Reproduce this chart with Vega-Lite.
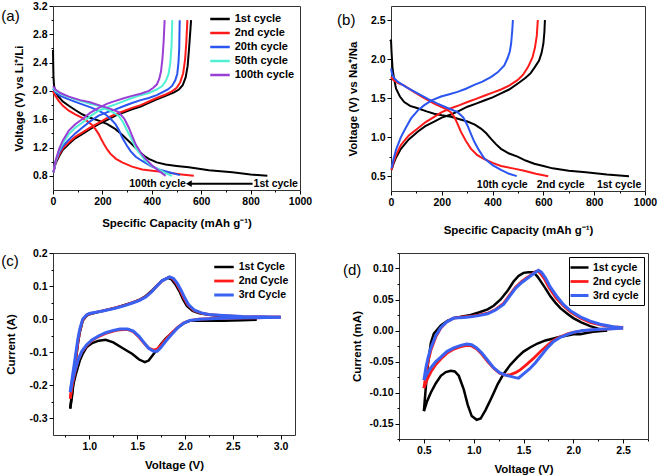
{
"$schema": "https://vega.github.io/schema/vega-lite/v6.json",
"padding": {"left": 0, "top": 0, "right": 0, "bottom": 0},
"spacing": 10,
"resolve": {"scale": {"color": "independent", "strokeWidth": "independent"}, "legend": {"color": "independent", "strokeWidth": "independent"}},
"config": {
  "view": {"stroke": "#333", "strokeWidth": 1},
  "font": "Liberation Sans",
  "axis": {"grid": false, "domain": false, "tickColor": "#000", "tickWidth": 1, "tickSize": 4, "labelFont": "Liberation Sans", "labelFontWeight": "bold", "labelFontSize": 10.5, "labelColor": "#000", "titleFont": "Liberation Sans", "titleFontWeight": "bold", "titleFontSize": 11.5, "titleColor": "#000", "labelPadding": 2, "titlePadding": 6, "labelFlush": false, "labelOverlap": false},
  "legend": {"labelFont": "Liberation Sans", "labelFontWeight": "bold", "labelColor": "#000", "symbolType": "M-1.5,0H1.5", "symbolFillColor": "transparent", "symbolSize": 169, "symbolStrokeWidth": 2.5, "labelOffset": 6.75, "padding": 0, "orient": "top-right"}
},
"datasets": {
  "a": [
    {"c":"1st cycle","s":"d","x":0,"y":2.58},{"c":"1st cycle","s":"d","x":1,"y":2.35},{"c":"1st cycle","s":"d","x":2,"y":2.2},{"c":"1st cycle","s":"d","x":4,"y":2.08},{"c":"1st cycle","s":"d","x":8,"y":2.0},{"c":"1st cycle","s":"d","x":20,"y":1.93},{"c":"1st cycle","s":"d","x":40,"y":1.85},{"c":"1st cycle","s":"d","x":64,"y":1.79},{"c":"1st cycle","s":"d","x":90,"y":1.73},{"c":"1st cycle","s":"d","x":118,"y":1.67},{"c":"1st cycle","s":"d","x":150,"y":1.62},{"c":"1st cycle","s":"d","x":185,"y":1.58},{"c":"1st cycle","s":"d","x":220,"y":1.53},{"c":"1st cycle","s":"d","x":253,"y":1.46},{"c":"1st cycle","s":"d","x":280,"y":1.38},{"c":"1st cycle","s":"d","x":307,"y":1.29},{"c":"1st cycle","s":"d","x":330,"y":1.21},{"c":"1st cycle","s":"d","x":347,"y":1.15},{"c":"1st cycle","s":"d","x":370,"y":1.08},{"c":"1st cycle","s":"d","x":388,"y":1.04},{"c":"1st cycle","s":"d","x":420,"y":0.99},{"c":"1st cycle","s":"d","x":456,"y":0.96},{"c":"1st cycle","s":"d","x":500,"y":0.94},{"c":"1st cycle","s":"d","x":550,"y":0.92},{"c":"1st cycle","s":"d","x":631,"y":0.88},{"c":"1st cycle","s":"d","x":726,"y":0.85},{"c":"1st cycle","s":"d","x":800,"y":0.82},{"c":"1st cycle","s":"d","x":868,"y":0.8},
    {"c":"1st cycle","s":"c","x":2,"y":0.85},{"c":"1st cycle","s":"c","x":10,"y":0.97},{"c":"1st cycle","s":"c","x":25,"y":1.08},{"c":"1st cycle","s":"c","x":40,"y":1.17},{"c":"1st cycle","s":"c","x":64,"y":1.25},{"c":"1st cycle","s":"c","x":90,"y":1.33},{"c":"1st cycle","s":"c","x":118,"y":1.39},{"c":"1st cycle","s":"c","x":150,"y":1.46},{"c":"1st cycle","s":"c","x":185,"y":1.53},{"c":"1st cycle","s":"c","x":220,"y":1.59},{"c":"1st cycle","s":"c","x":253,"y":1.65},{"c":"1st cycle","s":"c","x":290,"y":1.7},{"c":"1st cycle","s":"c","x":320,"y":1.74},{"c":"1st cycle","s":"c","x":355,"y":1.78},{"c":"1st cycle","s":"c","x":388,"y":1.83},{"c":"1st cycle","s":"c","x":420,"y":1.88},{"c":"1st cycle","s":"c","x":456,"y":1.93},{"c":"1st cycle","s":"c","x":490,"y":1.98},{"c":"1st cycle","s":"c","x":510,"y":2.02},{"c":"1st cycle","s":"c","x":525,"y":2.08},{"c":"1st cycle","s":"c","x":537,"y":2.19},{"c":"1st cycle","s":"c","x":545,"y":2.35},{"c":"1st cycle","s":"c","x":550,"y":2.56},{"c":"1st cycle","s":"c","x":555,"y":2.8},{"c":"1st cycle","s":"c","x":559,"y":3.0},
    {"c":"2nd cycle","s":"d","x":0,"y":2.0},{"c":"2nd cycle","s":"d","x":3,"y":1.97},{"c":"2nd cycle","s":"d","x":10,"y":1.93},{"c":"2nd cycle","s":"d","x":23,"y":1.86},{"c":"2nd cycle","s":"d","x":40,"y":1.79},{"c":"2nd cycle","s":"d","x":64,"y":1.72},{"c":"2nd cycle","s":"d","x":90,"y":1.67},{"c":"2nd cycle","s":"d","x":118,"y":1.62},{"c":"2nd cycle","s":"d","x":140,"y":1.57},{"c":"2nd cycle","s":"d","x":158,"y":1.52},{"c":"2nd cycle","s":"d","x":172,"y":1.46},{"c":"2nd cycle","s":"d","x":185,"y":1.39},{"c":"2nd cycle","s":"d","x":195,"y":1.32},{"c":"2nd cycle","s":"d","x":206,"y":1.25},{"c":"2nd cycle","s":"d","x":220,"y":1.17},{"c":"2nd cycle","s":"d","x":233,"y":1.11},{"c":"2nd cycle","s":"d","x":255,"y":1.04},{"c":"2nd cycle","s":"d","x":280,"y":0.99},{"c":"2nd cycle","s":"d","x":320,"y":0.93},{"c":"2nd cycle","s":"d","x":361,"y":0.89},{"c":"2nd cycle","s":"d","x":410,"y":0.87},{"c":"2nd cycle","s":"d","x":456,"y":0.85},{"c":"2nd cycle","s":"d","x":520,"y":0.82},{"c":"2nd cycle","s":"d","x":570,"y":0.8},
    {"c":"2nd cycle","s":"c","x":2,"y":0.85},{"c":"2nd cycle","s":"c","x":10,"y":0.98},{"c":"2nd cycle","s":"c","x":25,"y":1.1},{"c":"2nd cycle","s":"c","x":40,"y":1.19},{"c":"2nd cycle","s":"c","x":64,"y":1.27},{"c":"2nd cycle","s":"c","x":90,"y":1.35},{"c":"2nd cycle","s":"c","x":118,"y":1.41},{"c":"2nd cycle","s":"c","x":150,"y":1.48},{"c":"2nd cycle","s":"c","x":185,"y":1.55},{"c":"2nd cycle","s":"c","x":220,"y":1.62},{"c":"2nd cycle","s":"c","x":253,"y":1.67},{"c":"2nd cycle","s":"c","x":290,"y":1.72},{"c":"2nd cycle","s":"c","x":320,"y":1.76},{"c":"2nd cycle","s":"c","x":355,"y":1.8},{"c":"2nd cycle","s":"c","x":388,"y":1.85},{"c":"2nd cycle","s":"c","x":420,"y":1.9},{"c":"2nd cycle","s":"c","x":456,"y":1.95},{"c":"2nd cycle","s":"c","x":480,"y":1.99},{"c":"2nd cycle","s":"c","x":500,"y":2.04},{"c":"2nd cycle","s":"c","x":515,"y":2.12},{"c":"2nd cycle","s":"c","x":527,"y":2.25},{"c":"2nd cycle","s":"c","x":535,"y":2.45},{"c":"2nd cycle","s":"c","x":540,"y":2.7},{"c":"2nd cycle","s":"c","x":544,"y":3.0},
    {"c":"20th cycle","s":"d","x":0,"y":2.03},{"c":"20th cycle","s":"d","x":10,"y":1.98},{"c":"20th cycle","s":"d","x":30,"y":1.93},{"c":"20th cycle","s":"d","x":64,"y":1.88},{"c":"20th cycle","s":"d","x":110,"y":1.82},{"c":"20th cycle","s":"d","x":158,"y":1.76},{"c":"20th cycle","s":"d","x":190,"y":1.71},{"c":"20th cycle","s":"d","x":212,"y":1.67},{"c":"20th cycle","s":"d","x":235,"y":1.6},{"c":"20th cycle","s":"d","x":253,"y":1.53},{"c":"20th cycle","s":"d","x":268,"y":1.44},{"c":"20th cycle","s":"d","x":280,"y":1.34},{"c":"20th cycle","s":"d","x":297,"y":1.24},{"c":"20th cycle","s":"d","x":314,"y":1.15},{"c":"20th cycle","s":"d","x":335,"y":1.07},{"c":"20th cycle","s":"d","x":361,"y":1.01},{"c":"20th cycle","s":"d","x":395,"y":0.94},{"c":"20th cycle","s":"d","x":429,"y":0.89},{"c":"20th cycle","s":"d","x":470,"y":0.85},{"c":"20th cycle","s":"d","x":514,"y":0.81},
    {"c":"20th cycle","s":"c","x":2,"y":0.85},{"c":"20th cycle","s":"c","x":10,"y":0.99},{"c":"20th cycle","s":"c","x":25,"y":1.13},{"c":"20th cycle","s":"c","x":40,"y":1.22},{"c":"20th cycle","s":"c","x":64,"y":1.31},{"c":"20th cycle","s":"c","x":90,"y":1.4},{"c":"20th cycle","s":"c","x":118,"y":1.48},{"c":"20th cycle","s":"c","x":150,"y":1.57},{"c":"20th cycle","s":"c","x":185,"y":1.65},{"c":"20th cycle","s":"c","x":220,"y":1.7},{"c":"20th cycle","s":"c","x":253,"y":1.74},{"c":"20th cycle","s":"c","x":290,"y":1.79},{"c":"20th cycle","s":"c","x":320,"y":1.83},{"c":"20th cycle","s":"c","x":355,"y":1.87},{"c":"20th cycle","s":"c","x":388,"y":1.9},{"c":"20th cycle","s":"c","x":420,"y":1.94},{"c":"20th cycle","s":"c","x":442,"y":1.98},{"c":"20th cycle","s":"c","x":465,"y":2.02},{"c":"20th cycle","s":"c","x":482,"y":2.07},{"c":"20th cycle","s":"c","x":495,"y":2.15},{"c":"20th cycle","s":"c","x":503,"y":2.24},{"c":"20th cycle","s":"c","x":508,"y":2.4},{"c":"20th cycle","s":"c","x":511,"y":2.6},{"c":"20th cycle","s":"c","x":513,"y":3.0},
    {"c":"50th cycle","s":"d","x":0,"y":2.05},{"c":"50th cycle","s":"d","x":10,"y":2.0},{"c":"50th cycle","s":"d","x":30,"y":1.96},{"c":"50th cycle","s":"d","x":64,"y":1.91},{"c":"50th cycle","s":"d","x":110,"y":1.86},{"c":"50th cycle","s":"d","x":150,"y":1.82},{"c":"50th cycle","s":"d","x":185,"y":1.79},{"c":"50th cycle","s":"d","x":230,"y":1.72},{"c":"50th cycle","s":"d","x":266,"y":1.65},{"c":"50th cycle","s":"d","x":285,"y":1.55},{"c":"50th cycle","s":"d","x":300,"y":1.44},{"c":"50th cycle","s":"d","x":318,"y":1.32},{"c":"50th cycle","s":"d","x":334,"y":1.2},{"c":"50th cycle","s":"d","x":355,"y":1.1},{"c":"50th cycle","s":"d","x":375,"y":1.01},{"c":"50th cycle","s":"d","x":400,"y":0.94},{"c":"50th cycle","s":"d","x":429,"y":0.89},{"c":"50th cycle","s":"d","x":455,"y":0.84},{"c":"50th cycle","s":"d","x":482,"y":0.8},
    {"c":"50th cycle","s":"c","x":2,"y":0.85},{"c":"50th cycle","s":"c","x":10,"y":1.0},{"c":"50th cycle","s":"c","x":25,"y":1.16},{"c":"50th cycle","s":"c","x":40,"y":1.26},{"c":"50th cycle","s":"c","x":64,"y":1.39},{"c":"50th cycle","s":"c","x":90,"y":1.48},{"c":"50th cycle","s":"c","x":118,"y":1.55},{"c":"50th cycle","s":"c","x":150,"y":1.64},{"c":"50th cycle","s":"c","x":185,"y":1.72},{"c":"50th cycle","s":"c","x":220,"y":1.77},{"c":"50th cycle","s":"c","x":253,"y":1.81},{"c":"50th cycle","s":"c","x":290,"y":1.86},{"c":"50th cycle","s":"c","x":320,"y":1.9},{"c":"50th cycle","s":"c","x":355,"y":1.94},{"c":"50th cycle","s":"c","x":388,"y":1.97},{"c":"50th cycle","s":"c","x":420,"y":2.02},{"c":"50th cycle","s":"c","x":442,"y":2.07},{"c":"50th cycle","s":"c","x":458,"y":2.15},{"c":"50th cycle","s":"c","x":468,"y":2.24},{"c":"50th cycle","s":"c","x":475,"y":2.4},{"c":"50th cycle","s":"c","x":480,"y":2.65},{"c":"50th cycle","s":"c","x":483,"y":3.0},
    {"c":"100th cycle","s":"d","x":0,"y":2.07},{"c":"100th cycle","s":"d","x":10,"y":2.02},{"c":"100th cycle","s":"d","x":30,"y":1.97},{"c":"100th cycle","s":"d","x":64,"y":1.92},{"c":"100th cycle","s":"d","x":110,"y":1.87},{"c":"100th cycle","s":"d","x":150,"y":1.84},{"c":"100th cycle","s":"d","x":185,"y":1.8},{"c":"100th cycle","s":"d","x":230,"y":1.75},{"c":"100th cycle","s":"d","x":266,"y":1.7},{"c":"100th cycle","s":"d","x":290,"y":1.6},{"c":"100th cycle","s":"d","x":307,"y":1.48},{"c":"100th cycle","s":"d","x":320,"y":1.37},{"c":"100th cycle","s":"d","x":334,"y":1.25},{"c":"100th cycle","s":"d","x":355,"y":1.13},{"c":"100th cycle","s":"d","x":375,"y":1.04},{"c":"100th cycle","s":"d","x":400,"y":0.95},{"c":"100th cycle","s":"d","x":429,"y":0.87},{"c":"100th cycle","s":"d","x":456,"y":0.8},
    {"c":"100th cycle","s":"c","x":2,"y":0.85},{"c":"100th cycle","s":"c","x":10,"y":1.01},{"c":"100th cycle","s":"c","x":25,"y":1.18},{"c":"100th cycle","s":"c","x":40,"y":1.3},{"c":"100th cycle","s":"c","x":64,"y":1.44},{"c":"100th cycle","s":"c","x":90,"y":1.53},{"c":"100th cycle","s":"c","x":118,"y":1.6},{"c":"100th cycle","s":"c","x":150,"y":1.69},{"c":"100th cycle","s":"c","x":185,"y":1.76},{"c":"100th cycle","s":"c","x":220,"y":1.82},{"c":"100th cycle","s":"c","x":253,"y":1.86},{"c":"100th cycle","s":"c","x":290,"y":1.9},{"c":"100th cycle","s":"c","x":320,"y":1.93},{"c":"100th cycle","s":"c","x":355,"y":1.96},{"c":"100th cycle","s":"c","x":388,"y":2.0},{"c":"100th cycle","s":"c","x":405,"y":2.04},{"c":"100th cycle","s":"c","x":420,"y":2.09},{"c":"100th cycle","s":"c","x":430,"y":2.17},{"c":"100th cycle","s":"c","x":437,"y":2.27},{"c":"100th cycle","s":"c","x":443,"y":2.45},{"c":"100th cycle","s":"c","x":448,"y":2.7},{"c":"100th cycle","s":"c","x":452,"y":3.0}
  ],
  "b": [
    {"c":"1st","s":"d","x":0,"y":2.25},{"c":"1st","s":"d","x":2,"y":2.1},{"c":"1st","s":"d","x":6,"y":1.88},{"c":"1st","s":"d","x":12,"y":1.75},{"c":"1st","s":"d","x":20,"y":1.62},{"c":"1st","s":"d","x":35,"y":1.52},{"c":"1st","s":"d","x":52,"y":1.45},{"c":"1st","s":"d","x":75,"y":1.4},{"c":"1st","s":"d","x":105,"y":1.37},{"c":"1st","s":"d","x":140,"y":1.33},{"c":"1st","s":"d","x":170,"y":1.3},{"c":"1st","s":"d","x":200,"y":1.28},{"c":"1st","s":"d","x":236,"y":1.26},{"c":"1st","s":"d","x":270,"y":1.23},{"c":"1st","s":"d","x":301,"y":1.2},{"c":"1st","s":"d","x":330,"y":1.16},{"c":"1st","s":"d","x":354,"y":1.11},{"c":"1st","s":"d","x":375,"y":1.05},{"c":"1st","s":"d","x":393,"y":0.98},{"c":"1st","s":"d","x":413,"y":0.91},{"c":"1st","s":"d","x":433,"y":0.85},{"c":"1st","s":"d","x":465,"y":0.79},{"c":"1st","s":"d","x":498,"y":0.75},{"c":"1st","s":"d","x":530,"y":0.7},{"c":"1st","s":"d","x":564,"y":0.66},{"c":"1st","s":"d","x":600,"y":0.63},{"c":"1st","s":"d","x":636,"y":0.6},{"c":"1st","s":"d","x":700,"y":0.57},{"c":"1st","s":"d","x":767,"y":0.55},{"c":"1st","s":"d","x":850,"y":0.52},{"c":"1st","s":"d","x":937,"y":0.5},
    {"c":"1st","s":"c","x":2,"y":0.58},{"c":"1st","s":"c","x":10,"y":0.66},{"c":"1st","s":"c","x":20,"y":0.74},{"c":"1st","s":"c","x":39,"y":0.85},{"c":"1st","s":"c","x":70,"y":0.97},{"c":"1st","s":"c","x":105,"y":1.07},{"c":"1st","s":"c","x":135,"y":1.14},{"c":"1st","s":"c","x":170,"y":1.2},{"c":"1st","s":"c","x":200,"y":1.25},{"c":"1st","s":"c","x":236,"y":1.29},{"c":"1st","s":"c","x":270,"y":1.34},{"c":"1st","s":"c","x":301,"y":1.39},{"c":"1st","s":"c","x":335,"y":1.43},{"c":"1st","s":"c","x":367,"y":1.47},{"c":"1st","s":"c","x":400,"y":1.51},{"c":"1st","s":"c","x":433,"y":1.56},{"c":"1st","s":"c","x":465,"y":1.61},{"c":"1st","s":"c","x":505,"y":1.7},{"c":"1st","s":"c","x":530,"y":1.76},{"c":"1st","s":"c","x":550,"y":1.82},{"c":"1st","s":"c","x":565,"y":1.89},{"c":"1st","s":"c","x":583,"y":1.98},{"c":"1st","s":"c","x":593,"y":2.08},{"c":"1st","s":"c","x":600,"y":2.2},{"c":"1st","s":"c","x":604,"y":2.35},{"c":"1st","s":"c","x":606,"y":2.5},
    {"c":"2nd","s":"d","x":0,"y":1.77},{"c":"2nd","s":"d","x":10,"y":1.73},{"c":"2nd","s":"d","x":30,"y":1.69},{"c":"2nd","s":"d","x":52,"y":1.66},{"c":"2nd","s":"d","x":90,"y":1.58},{"c":"2nd","s":"d","x":131,"y":1.5},{"c":"2nd","s":"d","x":170,"y":1.43},{"c":"2nd","s":"d","x":210,"y":1.37},{"c":"2nd","s":"d","x":235,"y":1.32},{"c":"2nd","s":"d","x":249,"y":1.26},{"c":"2nd","s":"d","x":262,"y":1.17},{"c":"2nd","s":"d","x":275,"y":1.07},{"c":"2nd","s":"d","x":295,"y":0.95},{"c":"2nd","s":"d","x":315,"y":0.85},{"c":"2nd","s":"d","x":340,"y":0.77},{"c":"2nd","s":"d","x":367,"y":0.72},{"c":"2nd","s":"d","x":400,"y":0.67},{"c":"2nd","s":"d","x":433,"y":0.63},{"c":"2nd","s":"d","x":480,"y":0.6},{"c":"2nd","s":"d","x":524,"y":0.57},{"c":"2nd","s":"d","x":570,"y":0.53},{"c":"2nd","s":"d","x":619,"y":0.5},
    {"c":"2nd","s":"c","x":2,"y":0.58},{"c":"2nd","s":"c","x":10,"y":0.68},{"c":"2nd","s":"c","x":20,"y":0.77},{"c":"2nd","s":"c","x":39,"y":0.9},{"c":"2nd","s":"c","x":70,"y":1.02},{"c":"2nd","s":"c","x":105,"y":1.11},{"c":"2nd","s":"c","x":135,"y":1.19},{"c":"2nd","s":"c","x":170,"y":1.26},{"c":"2nd","s":"c","x":200,"y":1.32},{"c":"2nd","s":"c","x":236,"y":1.37},{"c":"2nd","s":"c","x":270,"y":1.41},{"c":"2nd","s":"c","x":301,"y":1.45},{"c":"2nd","s":"c","x":335,"y":1.49},{"c":"2nd","s":"c","x":367,"y":1.53},{"c":"2nd","s":"c","x":400,"y":1.57},{"c":"2nd","s":"c","x":433,"y":1.61},{"c":"2nd","s":"c","x":465,"y":1.66},{"c":"2nd","s":"c","x":498,"y":1.73},{"c":"2nd","s":"c","x":520,"y":1.8},{"c":"2nd","s":"c","x":540,"y":1.9},{"c":"2nd","s":"c","x":557,"y":2.02},{"c":"2nd","s":"c","x":567,"y":2.15},{"c":"2nd","s":"c","x":574,"y":2.3},{"c":"2nd","s":"c","x":578,"y":2.5},
    {"c":"10th","s":"d","x":0,"y":1.88},{"c":"10th","s":"d","x":5,"y":1.8},{"c":"10th","s":"d","x":12,"y":1.76},{"c":"10th","s":"d","x":26,"y":1.71},{"c":"10th","s":"d","x":60,"y":1.64},{"c":"10th","s":"d","x":105,"y":1.56},{"c":"10th","s":"d","x":145,"y":1.49},{"c":"10th","s":"d","x":183,"y":1.43},{"c":"10th","s":"d","x":225,"y":1.37},{"c":"10th","s":"d","x":262,"y":1.32},{"c":"10th","s":"d","x":285,"y":1.25},{"c":"10th","s":"d","x":301,"y":1.15},{"c":"10th","s":"d","x":315,"y":1.04},{"c":"10th","s":"d","x":328,"y":0.94},{"c":"10th","s":"d","x":345,"y":0.84},{"c":"10th","s":"d","x":367,"y":0.73},{"c":"10th","s":"d","x":400,"y":0.64},{"c":"10th","s":"d","x":433,"y":0.58},{"c":"10th","s":"d","x":465,"y":0.53},{"c":"10th","s":"d","x":495,"y":0.5},
    {"c":"10th","s":"c","x":2,"y":0.6},{"c":"10th","s":"c","x":10,"y":0.72},{"c":"10th","s":"c","x":20,"y":0.84},{"c":"10th","s":"c","x":39,"y":1.0},{"c":"10th","s":"c","x":60,"y":1.13},{"c":"10th","s":"c","x":79,"y":1.24},{"c":"10th","s":"c","x":105,"y":1.34},{"c":"10th","s":"c","x":131,"y":1.41},{"c":"10th","s":"c","x":160,"y":1.47},{"c":"10th","s":"c","x":197,"y":1.52},{"c":"10th","s":"c","x":230,"y":1.55},{"c":"10th","s":"c","x":262,"y":1.58},{"c":"10th","s":"c","x":295,"y":1.62},{"c":"10th","s":"c","x":328,"y":1.67},{"c":"10th","s":"c","x":360,"y":1.71},{"c":"10th","s":"c","x":393,"y":1.77},{"c":"10th","s":"c","x":420,"y":1.83},{"c":"10th","s":"c","x":446,"y":1.92},{"c":"10th","s":"c","x":460,"y":2.02},{"c":"10th","s":"c","x":468,"y":2.1},{"c":"10th","s":"c","x":473,"y":2.2},{"c":"10th","s":"c","x":477,"y":2.35},{"c":"10th","s":"c","x":480,"y":2.5}
  ],
  "c": [
    {"c":"1st Cycle","s":"u","x":0.8,"y":-0.27},{"c":"1st Cycle","s":"u","x":0.82,"y":-0.23},{"c":"1st Cycle","s":"u","x":0.84,"y":-0.175},{"c":"1st Cycle","s":"u","x":0.86,"y":-0.12},{"c":"1st Cycle","s":"u","x":0.88,"y":-0.075},{"c":"1st Cycle","s":"u","x":0.9,"y":-0.04},{"c":"1st Cycle","s":"u","x":0.93,"y":-0.005},{"c":"1st Cycle","s":"u","x":0.97,"y":0.01},{"c":"1st Cycle","s":"u","x":1.0,"y":0.015},{"c":"1st Cycle","s":"u","x":1.07,"y":0.02},{"c":"1st Cycle","s":"u","x":1.14,"y":0.025},{"c":"1st Cycle","s":"u","x":1.21,"y":0.03},{"c":"1st Cycle","s":"u","x":1.28,"y":0.035},{"c":"1st Cycle","s":"u","x":1.37,"y":0.043},{"c":"1st Cycle","s":"u","x":1.45,"y":0.05},{"c":"1st Cycle","s":"u","x":1.52,"y":0.058},{"c":"1st Cycle","s":"u","x":1.59,"y":0.07},{"c":"1st Cycle","s":"u","x":1.65,"y":0.085},{"c":"1st Cycle","s":"u","x":1.7,"y":0.1},{"c":"1st Cycle","s":"u","x":1.76,"y":0.117},{"c":"1st Cycle","s":"u","x":1.82,"y":0.125},{"c":"1st Cycle","s":"u","x":1.86,"y":0.12},{"c":"1st Cycle","s":"u","x":1.9,"y":0.105},{"c":"1st Cycle","s":"u","x":1.94,"y":0.085},{"c":"1st Cycle","s":"u","x":1.98,"y":0.06},{"c":"1st Cycle","s":"u","x":2.02,"y":0.04},{"c":"1st Cycle","s":"u","x":2.08,"y":0.025},{"c":"1st Cycle","s":"u","x":2.15,"y":0.018},{"c":"1st Cycle","s":"u","x":2.25,"y":0.013},{"c":"1st Cycle","s":"u","x":2.4,"y":0.009},{"c":"1st Cycle","s":"u","x":2.6,"y":0.005},{"c":"1st Cycle","s":"u","x":2.75,"y":0.003},
    {"c":"1st Cycle","s":"l","x":0.8,"y":-0.27},{"c":"1st Cycle","s":"l","x":0.81,"y":-0.245},{"c":"1st Cycle","s":"l","x":0.83,"y":-0.2},{"c":"1st Cycle","s":"l","x":0.86,"y":-0.165},{"c":"1st Cycle","s":"l","x":0.9,"y":-0.125},{"c":"1st Cycle","s":"l","x":0.93,"y":-0.105},{"c":"1st Cycle","s":"l","x":0.97,"y":-0.085},{"c":"1st Cycle","s":"l","x":1.03,"y":-0.072},{"c":"1st Cycle","s":"l","x":1.1,"y":-0.065},{"c":"1st Cycle","s":"l","x":1.17,"y":-0.062},{"c":"1st Cycle","s":"l","x":1.25,"y":-0.07},{"c":"1st Cycle","s":"l","x":1.35,"y":-0.088},{"c":"1st Cycle","s":"l","x":1.45,"y":-0.105},{"c":"1st Cycle","s":"l","x":1.52,"y":-0.122},{"c":"1st Cycle","s":"l","x":1.58,"y":-0.13},{"c":"1st Cycle","s":"l","x":1.62,"y":-0.125},{"c":"1st Cycle","s":"l","x":1.66,"y":-0.11},{"c":"1st Cycle","s":"l","x":1.7,"y":-0.095},{"c":"1st Cycle","s":"l","x":1.75,"y":-0.075},{"c":"1st Cycle","s":"l","x":1.8,"y":-0.058},{"c":"1st Cycle","s":"l","x":1.87,"y":-0.04},{"c":"1st Cycle","s":"l","x":1.94,"y":-0.022},{"c":"1st Cycle","s":"l","x":2.0,"y":-0.01},{"c":"1st Cycle","s":"l","x":2.05,"y":-0.005},{"c":"1st Cycle","s":"l","x":2.2,"y":-0.004},{"c":"1st Cycle","s":"l","x":2.4,"y":-0.005},{"c":"1st Cycle","s":"l","x":2.6,"y":-0.003},{"c":"1st Cycle","s":"l","x":2.75,"y":-0.002},
    {"c":"2nd Cycle","s":"u","x":0.8,"y":-0.24},{"c":"2nd Cycle","s":"u","x":0.82,"y":-0.2},{"c":"2nd Cycle","s":"u","x":0.84,"y":-0.16},{"c":"2nd Cycle","s":"u","x":0.86,"y":-0.115},{"c":"2nd Cycle","s":"u","x":0.88,"y":-0.07},{"c":"2nd Cycle","s":"u","x":0.9,"y":-0.035},{"c":"2nd Cycle","s":"u","x":0.93,"y":-0.003},{"c":"2nd Cycle","s":"u","x":0.97,"y":0.012},{"c":"2nd Cycle","s":"u","x":1.0,"y":0.016},{"c":"2nd Cycle","s":"u","x":1.07,"y":0.021},{"c":"2nd Cycle","s":"u","x":1.14,"y":0.025},{"c":"2nd Cycle","s":"u","x":1.21,"y":0.03},{"c":"2nd Cycle","s":"u","x":1.28,"y":0.035},{"c":"2nd Cycle","s":"u","x":1.37,"y":0.042},{"c":"2nd Cycle","s":"u","x":1.45,"y":0.05},{"c":"2nd Cycle","s":"u","x":1.52,"y":0.057},{"c":"2nd Cycle","s":"u","x":1.59,"y":0.068},{"c":"2nd Cycle","s":"u","x":1.65,"y":0.083},{"c":"2nd Cycle","s":"u","x":1.7,"y":0.098},{"c":"2nd Cycle","s":"u","x":1.76,"y":0.115},{"c":"2nd Cycle","s":"u","x":1.83,"y":0.127},{"c":"2nd Cycle","s":"u","x":1.87,"y":0.123},{"c":"2nd Cycle","s":"u","x":1.91,"y":0.108},{"c":"2nd Cycle","s":"u","x":1.95,"y":0.087},{"c":"2nd Cycle","s":"u","x":1.99,"y":0.063},{"c":"2nd Cycle","s":"u","x":2.03,"y":0.043},{"c":"2nd Cycle","s":"u","x":2.09,"y":0.027},{"c":"2nd Cycle","s":"u","x":2.16,"y":0.019},{"c":"2nd Cycle","s":"u","x":2.25,"y":0.014},{"c":"2nd Cycle","s":"u","x":2.4,"y":0.011},{"c":"2nd Cycle","s":"u","x":2.6,"y":0.008},{"c":"2nd Cycle","s":"u","x":2.8,"y":0.007},{"c":"2nd Cycle","s":"u","x":3.0,"y":0.006},
    {"c":"2nd Cycle","s":"l","x":0.8,"y":-0.24},{"c":"2nd Cycle","s":"l","x":0.82,"y":-0.2},{"c":"2nd Cycle","s":"l","x":0.85,"y":-0.16},{"c":"2nd Cycle","s":"l","x":0.88,"y":-0.125},{"c":"2nd Cycle","s":"l","x":0.92,"y":-0.1},{"c":"2nd Cycle","s":"l","x":0.97,"y":-0.08},{"c":"2nd Cycle","s":"l","x":1.03,"y":-0.064},{"c":"2nd Cycle","s":"l","x":1.1,"y":-0.052},{"c":"2nd Cycle","s":"l","x":1.17,"y":-0.043},{"c":"2nd Cycle","s":"l","x":1.25,"y":-0.036},{"c":"2nd Cycle","s":"l","x":1.32,"y":-0.032},{"c":"2nd Cycle","s":"l","x":1.4,"y":-0.031},{"c":"2nd Cycle","s":"l","x":1.46,"y":-0.038},{"c":"2nd Cycle","s":"l","x":1.52,"y":-0.055},{"c":"2nd Cycle","s":"l","x":1.57,"y":-0.072},{"c":"2nd Cycle","s":"l","x":1.62,"y":-0.087},{"c":"2nd Cycle","s":"l","x":1.67,"y":-0.093},{"c":"2nd Cycle","s":"l","x":1.71,"y":-0.09},{"c":"2nd Cycle","s":"l","x":1.75,"y":-0.078},{"c":"2nd Cycle","s":"l","x":1.8,"y":-0.06},{"c":"2nd Cycle","s":"l","x":1.86,"y":-0.042},{"c":"2nd Cycle","s":"l","x":1.92,"y":-0.025},{"c":"2nd Cycle","s":"l","x":1.98,"y":-0.012},{"c":"2nd Cycle","s":"l","x":2.05,"y":-0.004},{"c":"2nd Cycle","s":"l","x":2.15,"y":0.0},{"c":"2nd Cycle","s":"l","x":2.4,"y":0.003},{"c":"2nd Cycle","s":"l","x":2.7,"y":0.004},{"c":"2nd Cycle","s":"l","x":3.0,"y":0.006},
    {"c":"3rd Cycle","s":"u","x":0.8,"y":-0.22},{"c":"3rd Cycle","s":"u","x":0.82,"y":-0.18},{"c":"3rd Cycle","s":"u","x":0.84,"y":-0.14},{"c":"3rd Cycle","s":"u","x":0.86,"y":-0.1},{"c":"3rd Cycle","s":"u","x":0.88,"y":-0.06},{"c":"3rd Cycle","s":"u","x":0.9,"y":-0.03},{"c":"3rd Cycle","s":"u","x":0.93,"y":0.0},{"c":"3rd Cycle","s":"u","x":0.97,"y":0.013},{"c":"3rd Cycle","s":"u","x":1.0,"y":0.017},{"c":"3rd Cycle","s":"u","x":1.07,"y":0.021},{"c":"3rd Cycle","s":"u","x":1.14,"y":0.025},{"c":"3rd Cycle","s":"u","x":1.21,"y":0.029},{"c":"3rd Cycle","s":"u","x":1.28,"y":0.034},{"c":"3rd Cycle","s":"u","x":1.37,"y":0.041},{"c":"3rd Cycle","s":"u","x":1.45,"y":0.049},{"c":"3rd Cycle","s":"u","x":1.52,"y":0.056},{"c":"3rd Cycle","s":"u","x":1.59,"y":0.067},{"c":"3rd Cycle","s":"u","x":1.65,"y":0.082},{"c":"3rd Cycle","s":"u","x":1.7,"y":0.098},{"c":"3rd Cycle","s":"u","x":1.76,"y":0.116},{"c":"3rd Cycle","s":"u","x":1.84,"y":0.128},{"c":"3rd Cycle","s":"u","x":1.88,"y":0.123},{"c":"3rd Cycle","s":"u","x":1.92,"y":0.108},{"c":"3rd Cycle","s":"u","x":1.96,"y":0.087},{"c":"3rd Cycle","s":"u","x":2.0,"y":0.063},{"c":"3rd Cycle","s":"u","x":2.04,"y":0.043},{"c":"3rd Cycle","s":"u","x":2.1,"y":0.027},{"c":"3rd Cycle","s":"u","x":2.17,"y":0.019},{"c":"3rd Cycle","s":"u","x":2.25,"y":0.014},{"c":"3rd Cycle","s":"u","x":2.4,"y":0.011},{"c":"3rd Cycle","s":"u","x":2.6,"y":0.008},{"c":"3rd Cycle","s":"u","x":2.8,"y":0.007},{"c":"3rd Cycle","s":"u","x":3.0,"y":0.006},
    {"c":"3rd Cycle","s":"l","x":0.8,"y":-0.22},{"c":"3rd Cycle","s":"l","x":0.82,"y":-0.19},{"c":"3rd Cycle","s":"l","x":0.85,"y":-0.155},{"c":"3rd Cycle","s":"l","x":0.88,"y":-0.125},{"c":"3rd Cycle","s":"l","x":0.92,"y":-0.098},{"c":"3rd Cycle","s":"l","x":0.97,"y":-0.078},{"c":"3rd Cycle","s":"l","x":1.03,"y":-0.062},{"c":"3rd Cycle","s":"l","x":1.1,"y":-0.05},{"c":"3rd Cycle","s":"l","x":1.17,"y":-0.041},{"c":"3rd Cycle","s":"l","x":1.25,"y":-0.034},{"c":"3rd Cycle","s":"l","x":1.32,"y":-0.03},{"c":"3rd Cycle","s":"l","x":1.4,"y":-0.03},{"c":"3rd Cycle","s":"l","x":1.46,"y":-0.036},{"c":"3rd Cycle","s":"l","x":1.52,"y":-0.052},{"c":"3rd Cycle","s":"l","x":1.57,"y":-0.07},{"c":"3rd Cycle","s":"l","x":1.62,"y":-0.088},{"c":"3rd Cycle","s":"l","x":1.67,"y":-0.097},{"c":"3rd Cycle","s":"l","x":1.71,"y":-0.097},{"c":"3rd Cycle","s":"l","x":1.75,"y":-0.085},{"c":"3rd Cycle","s":"l","x":1.8,"y":-0.066},{"c":"3rd Cycle","s":"l","x":1.86,"y":-0.046},{"c":"3rd Cycle","s":"l","x":1.92,"y":-0.027},{"c":"3rd Cycle","s":"l","x":1.98,"y":-0.013},{"c":"3rd Cycle","s":"l","x":2.05,"y":-0.004},{"c":"3rd Cycle","s":"l","x":2.15,"y":0.0},{"c":"3rd Cycle","s":"l","x":2.4,"y":0.003},{"c":"3rd Cycle","s":"l","x":2.7,"y":0.004},{"c":"3rd Cycle","s":"l","x":3.0,"y":0.006}
  ],
  "d": [
    {"c":"1st cycle","s":"u","x":0.5,"y":-0.13},{"c":"1st cycle","s":"u","x":0.52,"y":-0.09},{"c":"1st cycle","s":"u","x":0.54,"y":-0.055},{"c":"1st cycle","s":"u","x":0.57,"y":-0.02},{"c":"1st cycle","s":"u","x":0.6,"y":-0.005},{"c":"1st cycle","s":"u","x":0.67,"y":0.008},{"c":"1st cycle","s":"u","x":0.74,"y":0.016},{"c":"1st cycle","s":"u","x":0.8,"y":0.02},{"c":"1st cycle","s":"u","x":0.9,"y":0.023},{"c":"1st cycle","s":"u","x":0.97,"y":0.025},{"c":"1st cycle","s":"u","x":1.05,"y":0.029},{"c":"1st cycle","s":"u","x":1.14,"y":0.034},{"c":"1st cycle","s":"u","x":1.2,"y":0.04},{"c":"1st cycle","s":"u","x":1.27,"y":0.05},{"c":"1st cycle","s":"u","x":1.34,"y":0.064},{"c":"1st cycle","s":"u","x":1.4,"y":0.079},{"c":"1st cycle","s":"u","x":1.45,"y":0.088},{"c":"1st cycle","s":"u","x":1.5,"y":0.093},{"c":"1st cycle","s":"u","x":1.55,"y":0.094},{"c":"1st cycle","s":"u","x":1.6,"y":0.094},{"c":"1st cycle","s":"u","x":1.64,"y":0.087},{"c":"1st cycle","s":"u","x":1.67,"y":0.08},{"c":"1st cycle","s":"u","x":1.72,"y":0.068},{"c":"1st cycle","s":"u","x":1.77,"y":0.055},{"c":"1st cycle","s":"u","x":1.82,"y":0.045},{"c":"1st cycle","s":"u","x":1.87,"y":0.036},{"c":"1st cycle","s":"u","x":1.94,"y":0.027},{"c":"1st cycle","s":"u","x":2.0,"y":0.02},{"c":"1st cycle","s":"u","x":2.08,"y":0.013},{"c":"1st cycle","s":"u","x":2.17,"y":0.007},{"c":"1st cycle","s":"u","x":2.25,"y":0.003},{"c":"1st cycle","s":"u","x":2.34,"y":0.0},
    {"c":"1st cycle","s":"l","x":0.5,"y":-0.13},{"c":"1st cycle","s":"l","x":0.53,"y":-0.115},{"c":"1st cycle","s":"l","x":0.57,"y":-0.1},{"c":"1st cycle","s":"l","x":0.62,"y":-0.085},{"c":"1st cycle","s":"l","x":0.67,"y":-0.073},{"c":"1st cycle","s":"l","x":0.72,"y":-0.067},{"c":"1st cycle","s":"l","x":0.77,"y":-0.065},{"c":"1st cycle","s":"l","x":0.81,"y":-0.066},{"c":"1st cycle","s":"l","x":0.85,"y":-0.073},{"c":"1st cycle","s":"l","x":0.9,"y":-0.095},{"c":"1st cycle","s":"l","x":0.94,"y":-0.12},{"c":"1st cycle","s":"l","x":0.98,"y":-0.138},{"c":"1st cycle","s":"l","x":1.03,"y":-0.144},{"c":"1st cycle","s":"l","x":1.07,"y":-0.142},{"c":"1st cycle","s":"l","x":1.12,"y":-0.128},{"c":"1st cycle","s":"l","x":1.18,"y":-0.108},{"c":"1st cycle","s":"l","x":1.24,"y":-0.087},{"c":"1st cycle","s":"l","x":1.3,"y":-0.07},{"c":"1st cycle","s":"l","x":1.37,"y":-0.055},{"c":"1st cycle","s":"l","x":1.44,"y":-0.043},{"c":"1st cycle","s":"l","x":1.5,"y":-0.034},{"c":"1st cycle","s":"l","x":1.57,"y":-0.027},{"c":"1st cycle","s":"l","x":1.64,"y":-0.021},{"c":"1st cycle","s":"l","x":1.72,"y":-0.016},{"c":"1st cycle","s":"l","x":1.8,"y":-0.013},{"c":"1st cycle","s":"l","x":1.87,"y":-0.01},{"c":"1st cycle","s":"l","x":1.94,"y":-0.008},{"c":"1st cycle","s":"l","x":2.0,"y":-0.006},{"c":"1st cycle","s":"l","x":2.07,"y":-0.006},{"c":"1st cycle","s":"l","x":2.13,"y":-0.004},{"c":"1st cycle","s":"l","x":2.2,"y":-0.002},{"c":"1st cycle","s":"l","x":2.34,"y":0.0},
    {"c":"2nd cycle","s":"u","x":0.5,"y":-0.093},{"c":"2nd cycle","s":"u","x":0.52,"y":-0.07},{"c":"2nd cycle","s":"u","x":0.54,"y":-0.052},{"c":"2nd cycle","s":"u","x":0.57,"y":-0.032},{"c":"2nd cycle","s":"u","x":0.62,"y":-0.01},{"c":"2nd cycle","s":"u","x":0.67,"y":0.004},{"c":"2nd cycle","s":"u","x":0.73,"y":0.014},{"c":"2nd cycle","s":"u","x":0.8,"y":0.02},{"c":"2nd cycle","s":"u","x":0.9,"y":0.022},{"c":"2nd cycle","s":"u","x":0.97,"y":0.023},{"c":"2nd cycle","s":"u","x":1.05,"y":0.025},{"c":"2nd cycle","s":"u","x":1.14,"y":0.028},{"c":"2nd cycle","s":"u","x":1.22,"y":0.034},{"c":"2nd cycle","s":"u","x":1.3,"y":0.044},{"c":"2nd cycle","s":"u","x":1.36,"y":0.057},{"c":"2nd cycle","s":"u","x":1.42,"y":0.07},{"c":"2nd cycle","s":"u","x":1.48,"y":0.079},{"c":"2nd cycle","s":"u","x":1.53,"y":0.085},{"c":"2nd cycle","s":"u","x":1.58,"y":0.09},{"c":"2nd cycle","s":"u","x":1.62,"y":0.095},{"c":"2nd cycle","s":"u","x":1.64,"y":0.096},{"c":"2nd cycle","s":"u","x":1.67,"y":0.092},{"c":"2nd cycle","s":"u","x":1.71,"y":0.083},{"c":"2nd cycle","s":"u","x":1.76,"y":0.068},{"c":"2nd cycle","s":"u","x":1.83,"y":0.052},{"c":"2nd cycle","s":"u","x":1.9,"y":0.04},{"c":"2nd cycle","s":"u","x":1.97,"y":0.03},{"c":"2nd cycle","s":"u","x":2.07,"y":0.02},{"c":"2nd cycle","s":"u","x":2.17,"y":0.013},{"c":"2nd cycle","s":"u","x":2.27,"y":0.009},{"c":"2nd cycle","s":"u","x":2.4,"y":0.006},{"c":"2nd cycle","s":"u","x":2.5,"y":0.005},
    {"c":"2nd cycle","s":"l","x":0.5,"y":-0.093},{"c":"2nd cycle","s":"l","x":0.53,"y":-0.08},{"c":"2nd cycle","s":"l","x":0.57,"y":-0.067},{"c":"2nd cycle","s":"l","x":0.62,"y":-0.055},{"c":"2nd cycle","s":"l","x":0.67,"y":-0.046},{"c":"2nd cycle","s":"l","x":0.73,"y":-0.037},{"c":"2nd cycle","s":"l","x":0.8,"y":-0.03},{"c":"2nd cycle","s":"l","x":0.87,"y":-0.026},{"c":"2nd cycle","s":"l","x":0.93,"y":-0.024},{"c":"2nd cycle","s":"l","x":0.98,"y":-0.025},{"c":"2nd cycle","s":"l","x":1.03,"y":-0.03},{"c":"2nd cycle","s":"l","x":1.08,"y":-0.038},{"c":"2nd cycle","s":"l","x":1.14,"y":-0.05},{"c":"2nd cycle","s":"l","x":1.2,"y":-0.061},{"c":"2nd cycle","s":"l","x":1.26,"y":-0.069},{"c":"2nd cycle","s":"l","x":1.32,"y":-0.072},{"c":"2nd cycle","s":"l","x":1.37,"y":-0.071},{"c":"2nd cycle","s":"l","x":1.42,"y":-0.068},{"c":"2nd cycle","s":"l","x":1.47,"y":-0.063},{"c":"2nd cycle","s":"l","x":1.53,"y":-0.055},{"c":"2nd cycle","s":"l","x":1.6,"y":-0.045},{"c":"2nd cycle","s":"l","x":1.67,"y":-0.034},{"c":"2nd cycle","s":"l","x":1.74,"y":-0.024},{"c":"2nd cycle","s":"l","x":1.8,"y":-0.016},{"c":"2nd cycle","s":"l","x":1.87,"y":-0.01},{"c":"2nd cycle","s":"l","x":1.95,"y":-0.005},{"c":"2nd cycle","s":"l","x":2.0,"y":-0.003},{"c":"2nd cycle","s":"l","x":2.1,"y":0.0},{"c":"2nd cycle","s":"l","x":2.27,"y":0.002},{"c":"2nd cycle","s":"l","x":2.4,"y":0.003},{"c":"2nd cycle","s":"l","x":2.5,"y":0.004},
    {"c":"3rd cycle","s":"u","x":0.5,"y":-0.08},{"c":"3rd cycle","s":"u","x":0.52,"y":-0.06},{"c":"3rd cycle","s":"u","x":0.54,"y":-0.045},{"c":"3rd cycle","s":"u","x":0.57,"y":-0.028},{"c":"3rd cycle","s":"u","x":0.62,"y":-0.008},{"c":"3rd cycle","s":"u","x":0.67,"y":0.005},{"c":"3rd cycle","s":"u","x":0.73,"y":0.014},{"c":"3rd cycle","s":"u","x":0.8,"y":0.02},{"c":"3rd cycle","s":"u","x":0.9,"y":0.021},{"c":"3rd cycle","s":"u","x":0.97,"y":0.022},{"c":"3rd cycle","s":"u","x":1.05,"y":0.024},{"c":"3rd cycle","s":"u","x":1.14,"y":0.027},{"c":"3rd cycle","s":"u","x":1.22,"y":0.033},{"c":"3rd cycle","s":"u","x":1.3,"y":0.042},{"c":"3rd cycle","s":"u","x":1.36,"y":0.055},{"c":"3rd cycle","s":"u","x":1.42,"y":0.068},{"c":"3rd cycle","s":"u","x":1.48,"y":0.077},{"c":"3rd cycle","s":"u","x":1.53,"y":0.083},{"c":"3rd cycle","s":"u","x":1.58,"y":0.089},{"c":"3rd cycle","s":"u","x":1.62,"y":0.094},{"c":"3rd cycle","s":"u","x":1.65,"y":0.097},{"c":"3rd cycle","s":"u","x":1.68,"y":0.094},{"c":"3rd cycle","s":"u","x":1.72,"y":0.085},{"c":"3rd cycle","s":"u","x":1.77,"y":0.07},{"c":"3rd cycle","s":"u","x":1.84,"y":0.054},{"c":"3rd cycle","s":"u","x":1.9,"y":0.042},{"c":"3rd cycle","s":"u","x":1.97,"y":0.032},{"c":"3rd cycle","s":"u","x":2.07,"y":0.022},{"c":"3rd cycle","s":"u","x":2.17,"y":0.015},{"c":"3rd cycle","s":"u","x":2.27,"y":0.01},{"c":"3rd cycle","s":"u","x":2.4,"y":0.006},{"c":"3rd cycle","s":"u","x":2.5,"y":0.004},
    {"c":"3rd cycle","s":"l","x":0.5,"y":-0.08},{"c":"3rd cycle","s":"l","x":0.53,"y":-0.07},{"c":"3rd cycle","s":"l","x":0.57,"y":-0.06},{"c":"3rd cycle","s":"l","x":0.62,"y":-0.05},{"c":"3rd cycle","s":"l","x":0.67,"y":-0.043},{"c":"3rd cycle","s":"l","x":0.73,"y":-0.034},{"c":"3rd cycle","s":"l","x":0.8,"y":-0.028},{"c":"3rd cycle","s":"l","x":0.87,"y":-0.024},{"c":"3rd cycle","s":"l","x":0.93,"y":-0.022},{"c":"3rd cycle","s":"l","x":0.98,"y":-0.023},{"c":"3rd cycle","s":"l","x":1.03,"y":-0.028},{"c":"3rd cycle","s":"l","x":1.08,"y":-0.036},{"c":"3rd cycle","s":"l","x":1.14,"y":-0.048},{"c":"3rd cycle","s":"l","x":1.2,"y":-0.06},{"c":"3rd cycle","s":"l","x":1.26,"y":-0.068},{"c":"3rd cycle","s":"l","x":1.32,"y":-0.072},{"c":"3rd cycle","s":"l","x":1.37,"y":-0.074},{"c":"3rd cycle","s":"l","x":1.42,"y":-0.076},{"c":"3rd cycle","s":"l","x":1.45,"y":-0.077},{"c":"3rd cycle","s":"l","x":1.5,"y":-0.07},{"c":"3rd cycle","s":"l","x":1.56,"y":-0.062},{"c":"3rd cycle","s":"l","x":1.62,"y":-0.052},{"c":"3rd cycle","s":"l","x":1.68,"y":-0.04},{"c":"3rd cycle","s":"l","x":1.74,"y":-0.028},{"c":"3rd cycle","s":"l","x":1.8,"y":-0.018},{"c":"3rd cycle","s":"l","x":1.87,"y":-0.011},{"c":"3rd cycle","s":"l","x":1.95,"y":-0.006},{"c":"3rd cycle","s":"l","x":2.0,"y":-0.003},{"c":"3rd cycle","s":"l","x":2.1,"y":0.0},{"c":"3rd cycle","s":"l","x":2.27,"y":0.002},{"c":"3rd cycle","s":"l","x":2.4,"y":0.003},{"c":"3rd cycle","s":"l","x":2.5,"y":0.004}
  ]
},
"vconcat": [
  {"hconcat": [
    {"width": 247, "height": 184,
     "resolve": {"axis": {"x": "independent", "y": "independent"}},
     "layer": [
      {"data": {"name": "a"}, "mark": {"type": "line", "strokeWidth": 2},
       "encoding": {
        "x": {"field": "x", "type": "quantitative", "scale": {"domain": [0, 1000], "nice": false, "zero": false},
              "axis": {"title": "Specific Capacity (mAh g⁻¹)", "titlePadding": 11, "values": [0,200,400,600,800,1000], "format": "d"}},
        "y": {"field": "y", "type": "quantitative", "scale": {"domain": [0.6, 3.2], "nice": false, "zero": false},
              "axis": {"title": "Voltage (V) vs Li⁺/Li", "titlePadding": 8, "values": [0.8,1.2,1.6,2.0,2.4,2.8,3.2], "format": ".1f"}},
        "color": {"field": "c", "type": "nominal", "scale": {"domain": ["1st cycle","2nd cycle","20th cycle","50th cycle","100th cycle"], "range": ["#000000","#ff1a1a","#2a55f0","#4ff0d4","#9a3fd6"]},
                  "legend": {"title": null, "labelFontSize": 11, "rowPadding": 1, "offset": 5, "orient": "top-right"}},
        "detail": {"field": "s"}
       }},
      {"data": {"values": [{"t": "(a)", "x": -172, "y": 3.06}]}, "mark": {"type": "text", "fontSize": 15, "font": "Liberation Sans", "align": "center", "baseline": "middle"},
       "encoding": {"x": {"field": "x", "type": "quantitative", "scale": {"domain": [0, 1000]}, "axis": {"orient": "bottom", "values": [100,300,500,700,900], "labels": false, "title": null, "tickSize": 2}},
                    "y": {"field": "y", "type": "quantitative", "scale": {"domain": [0.6, 3.2]}, "axis": {"orient": "left", "values": [1.0,1.4,1.8,2.2,2.6,3.0], "labels": false, "title": null, "tickSize": 2}}, "text": {"field": "t"}}},
      {"data": {"values": [{"x": 552, "x2": 808, "y": 0.69}]}, "mark": {"type": "rule", "strokeWidth": 2, "color": "#000"},
       "encoding": {"x": {"field": "x", "type": "quantitative", "scale": {"domain": [0, 1000]}, "axis": null}, "x2": {"field": "x2"}, "y": {"field": "y", "type": "quantitative", "scale": {"domain": [0.6, 3.2]}, "axis": null}}},
      {"data": {"values": [{"x": 550, "y": 0.69}]}, "mark": {"type": "point", "shape": "triangle-left", "filled": true, "size": 45, "color": "#000", "opacity": 1},
       "encoding": {"x": {"field": "x", "type": "quantitative", "scale": {"domain": [0, 1000]}, "axis": null}, "y": {"field": "y", "type": "quantitative", "scale": {"domain": [0.6, 3.2]}, "axis": null}}},
      {"data": {"values": [{"t": "100th cycle", "x": 538, "y": 0.69}]}, "mark": {"type": "text", "fontSize": 10.5, "fontWeight": "bold", "font": "Liberation Sans", "baseline": "middle", "align": "right"},
       "encoding": {"x": {"field": "x", "type": "quantitative", "scale": {"domain": [0, 1000]}, "axis": null}, "y": {"field": "y", "type": "quantitative", "scale": {"domain": [0.6, 3.2]}, "axis": null}, "text": {"field": "t"}}},
      {"data": {"values": [{"t": "1st cycle", "x": 812, "y": 0.69}]}, "mark": {"type": "text", "fontSize": 10.5, "fontWeight": "bold", "font": "Liberation Sans", "baseline": "middle", "align": "left"},
       "encoding": {"x": {"field": "x", "type": "quantitative", "scale": {"domain": [0, 1000]}, "axis": null}, "y": {"field": "y", "type": "quantitative", "scale": {"domain": [0.6, 3.2]}, "axis": null}, "text": {"field": "t"}}}
     ]},
    {"width": 254, "height": 185,
     "resolve": {"axis": {"x": "independent", "y": "independent"}},
     "layer": [
      {"data": {"name": "b"}, "mark": {"type": "line", "strokeWidth": 2},
       "encoding": {
        "x": {"field": "x", "type": "quantitative", "scale": {"domain": [0, 1000], "nice": false, "zero": false},
              "axis": {"title": "Specific Capacity (mAh g⁻¹)", "titlePadding": 17, "values": [0,200,400,600,800,1000], "format": "d"}},
        "y": {"field": "y", "type": "quantitative", "scale": {"domain": [0.31, 2.68], "nice": false, "zero": false},
              "axis": {"title": "Voltage (V) vs Na⁺/Na", "titlePadding": 12, "values": [0.5,1.0,1.5,2.0,2.5], "format": ".1f"}},
        "color": {"field": "c", "type": "nominal", "scale": {"domain": ["1st","2nd","10th"], "range": ["#000000","#ff1a1a","#2a55f0"]}, "legend": null},
        "detail": {"field": "s"}
       }},
      {"data": {"values": [{"t": "(b)", "x": -176, "y": 2.5}]}, "mark": {"type": "text", "fontSize": 15, "font": "Liberation Sans", "align": "center", "baseline": "middle"},
       "encoding": {"x": {"field": "x", "type": "quantitative", "scale": {"domain": [0, 1000]}, "axis": {"orient": "bottom", "values": [100,300,500,700,900], "labels": false, "title": null, "tickSize": 2}},
                    "y": {"field": "y", "type": "quantitative", "scale": {"domain": [0.31, 2.68]}, "axis": {"orient": "left", "values": [0.75,1.25,1.75,2.25], "labels": false, "title": null, "tickSize": 2}}, "text": {"field": "t"}}},
      {"data": {"values": [{"t": "10th cycle", "x": 438, "y": 0.39}, {"t": "2nd cycle", "x": 668, "y": 0.39}, {"t": "1st cycle", "x": 898, "y": 0.39}]}, "mark": {"type": "text", "fontSize": 10.5, "fontWeight": "bold", "font": "Liberation Sans", "align": "center", "baseline": "middle"},
       "encoding": {"x": {"field": "x", "type": "quantitative", "scale": {"domain": [0, 1000]}, "axis": null}, "y": {"field": "y", "type": "quantitative", "scale": {"domain": [0.31, 2.68]}, "axis": null}, "text": {"field": "t"}}}
     ]}
  ], "spacing": 91, "bounds": "flush", "resolve": {"scale": {"color": "independent"}, "legend": {"color": "independent"}}},
  {"hconcat": [
    {"width": 242, "height": 182,
     "resolve": {"axis": {"x": "independent", "y": "independent"}},
     "layer": [
      {"data": {"name": "c"}, "mark": {"type": "line"},
       "encoding": {
        "x": {"field": "x", "type": "quantitative", "scale": {"domain": [0.62, 3.15], "nice": false, "zero": false},
              "axis": {"title": "Voltage (V)", "titlePadding": 8, "values": [1.0,1.5,2.0,2.5,3.0], "format": ".1f"}},
        "y": {"field": "y", "type": "quantitative", "scale": {"domain": [-0.35, 0.2], "nice": false, "zero": false},
              "axis": {"title": "Current (A)", "titlePadding": 12.5, "values": [-0.3,-0.2,-0.1,0,0.1,0.2], "format": ".1f", "labelExpr": "replace(datum.label, '−', '-')"}},
        "color": {"field": "c", "type": "nominal", "scale": {"domain": ["1st Cycle","2nd Cycle","3rd Cycle"], "range": ["#000000","#ff1a1a","#3a62f2"]},
                  "legend": {"title": null, "labelFontSize": 10.5, "rowPadding": 0, "offset": 6, "symbolStrokeWidth": 3, "orient": "top-right"}},
        "strokeWidth": {"field": "c", "type": "nominal", "scale": {"domain": ["1st Cycle","2nd Cycle","3rd Cycle"], "range": [2.5, 3, 3.5]}, "legend": null},
        "detail": {"field": "s"}
       }},
      {"data": {"values": [{"t": "(c)", "x": 0.171, "y": 0.176}]}, "mark": {"type": "text", "fontSize": 15, "font": "Liberation Sans", "align": "center", "baseline": "middle"},
       "encoding": {"x": {"field": "x", "type": "quantitative", "scale": {"domain": [0.62, 3.15]}, "axis": {"orient": "bottom", "values": [0.75,1.25,1.75,2.25,2.75], "labels": false, "title": null, "tickSize": 2}},
                    "y": {"field": "y", "type": "quantitative", "scale": {"domain": [-0.35, 0.2]}, "axis": {"orient": "left", "values": [-0.25,-0.15,-0.05,0.05,0.15], "labels": false, "title": null, "tickSize": 2}}, "text": {"field": "t"}}}
     ]},
    {"width": 249, "height": 186,
     "resolve": {"axis": {"x": "independent", "y": "independent"}},
     "layer": [
      {"data": {"name": "d"}, "mark": {"type": "line"},
       "encoding": {
        "x": {"field": "x", "type": "quantitative", "scale": {"domain": [0.25, 2.75], "nice": false, "zero": false},
              "axis": {"title": "Voltage (V)", "titlePadding": 8, "values": [0.5,1.0,1.5,2.0,2.5], "format": ".1f"}},
        "y": {"field": "y", "type": "quantitative", "scale": {"domain": [-0.175, 0.125], "nice": false, "zero": false},
              "axis": {"title": "Current (mA)", "titlePadding": 7, "values": [-0.15,-0.1,-0.05,0,0.05,0.1], "format": ".2f", "labelExpr": "replace(datum.label, '−', '-')"}},
        "color": {"field": "c", "type": "nominal", "scale": {"domain": ["1st cycle","2nd cycle","3rd cycle"], "range": ["#000000","#ff1a1a","#3a62f2"]},
                  "legend": {"title": null, "labelFontSize": 10.5, "rowPadding": 1, "offset": 4, "padding": 3, "strokeColor": "#000", "fillColor": "#fff", "symbolStrokeWidth": 3, "symbolSize": 144, "labelOffset": 6, "orient": "top-right"}},
        "strokeWidth": {"field": "c", "type": "nominal", "scale": {"domain": ["1st cycle","2nd cycle","3rd cycle"], "range": [2.5, 3, 3.5]}, "legend": null},
        "detail": {"field": "s"}
       }},
      {"data": {"values": [{"t": "(d)", "x": -0.22, "y": 0.097}]}, "mark": {"type": "text", "fontSize": 15, "font": "Liberation Sans", "align": "center", "baseline": "middle"},
       "encoding": {"x": {"field": "x", "type": "quantitative", "scale": {"domain": [0.25, 2.75]}, "axis": {"orient": "bottom", "values": [0.25,0.75,1.25,1.75,2.25,2.75], "labels": false, "title": null, "tickSize": 2}},
                    "y": {"field": "y", "type": "quantitative", "scale": {"domain": [-0.175, 0.125]}, "axis": {"orient": "left", "values": [-0.175,-0.125,-0.075,-0.025,0.025,0.075,0.125], "labels": false, "title": null, "tickSize": 2}}, "text": {"field": "t"}}}
     ]}
  ], "spacing": 104, "bounds": "flush", "resolve": {"scale": {"color": "independent", "strokeWidth": "independent"}, "legend": {"color": "independent", "strokeWidth": "independent"}}}
]
}
